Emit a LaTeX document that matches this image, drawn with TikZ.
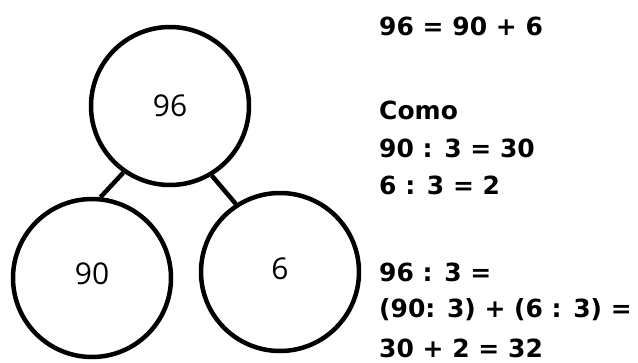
\documentclass[tikz,border=0pt]{standalone}
\usepackage{fontspec}
\usepackage{tikz}
\usetikzlibrary{calc,positioning}
\newfontfamily\sumfont{DejaVu Sans}
\newfontfamily\numfont{Open Sans}

\begin{document}
\begin{tikzpicture}[x=1pt,y=-1pt]
    \tikzstyle{every node}=[inner sep=0pt]
    \tikzstyle{part}=[draw,circle,line width=4.5pt,minimum size=158pt,
                      font=\numfont\fontsize{30}{30}\selectfont]
    \tikzstyle{step line}=[anchor=west,font=\sumfont\bfseries\fontsize{25}{28}\selectfont]

    \useasboundingbox (0,0) rectangle (638,362);

    % the number and its two parts
    \node[part] (whole) at (170,106) {96};
    \node[part] (tens)  at (92,278)  {\raisebox{9pt}{90}};
    \node[part] (ones)  at (280,272) {\raisebox{7pt}{6}};

    \draw[line width=4.5pt] (whole.235) -- (tens.84);
    \draw[line width=4.5pt] (whole.301) -- (ones.123);

    % the working on the right
    \node[step line] (s1) at (379,26)  {96 = 90 + 6};
    \node[step line] (s2) at (379,110) {Como};
    \node[step line] (s3) at (379,148) {90 : 3 = 30};
    \node[step line] (s4) at (379,185) {6 : 3 = 2};
    \node[step line] (s5) at (379,272) {96 : 3 =};
    \node[step line] (s6) at (379,310) {(90: 3) + (6 : 3) =};
    \node[step line] (s7) at (379,348) {30 + 2 = 32};
\end{tikzpicture}
\end{document}
